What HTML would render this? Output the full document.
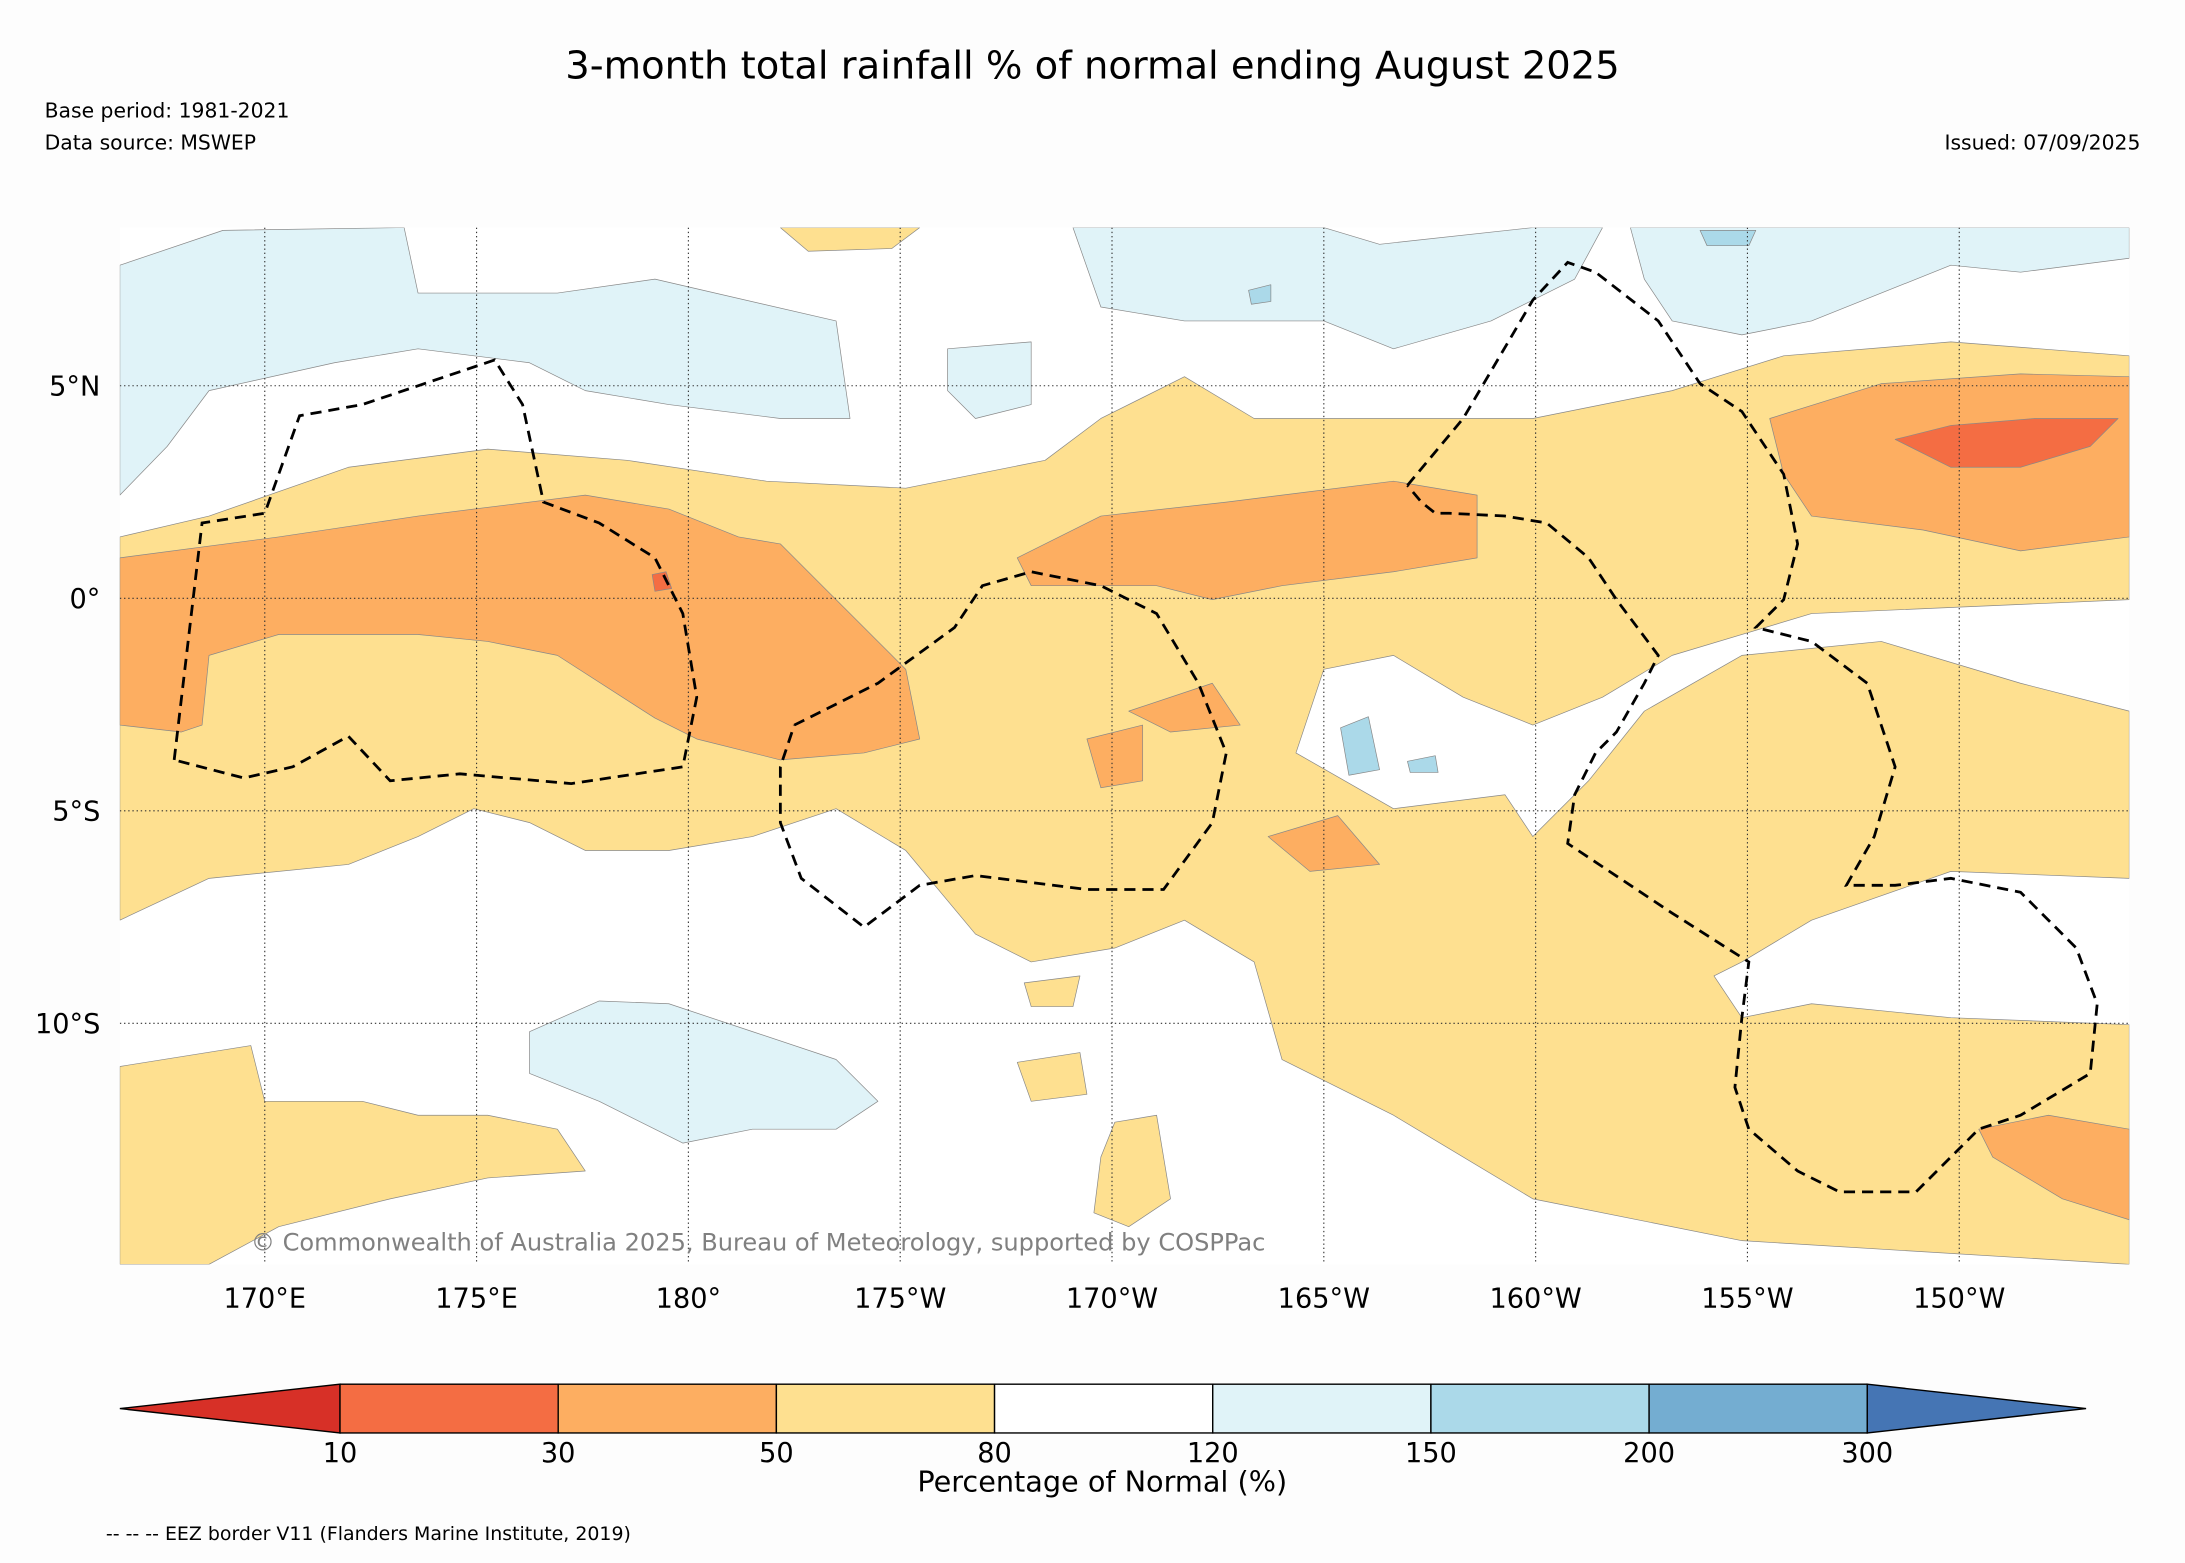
<!DOCTYPE html>
<html><head><meta charset="utf-8"><style>
html,body{margin:0;padding:0;background:#fdfdfd;}
svg{display:block;font-family:"DejaVu Sans","Liberation Sans",sans-serif;}
</style></head><body>
<svg id="chart" width="2185" height="1563" viewBox="0 0 1568 1121" xmlns="http://www.w3.org/2000/svg">
<rect x="0" y="0" width="1568" height="1121" fill="#fdfdfd"/>
<text x="784" y="56" font-size="27.6" text-anchor="middle" fill="#000">3-month total rainfall % of normal ending August 2025</text>
<text x="32" y="84" font-size="14.6">Base period: 1981-2021</text>
<text x="32" y="107" font-size="14.6">Data source: MSWEP</text>
<text x="1536" y="107" font-size="14.6" text-anchor="end">Issued: 07/09/2025</text>
<defs><clipPath id="mapclip"><rect x="86" y="163" width="1442" height="744"/></clipPath></defs>
<g id="map" clip-path="url(#mapclip)">
<rect x="86" y="163" width="1442" height="744" fill="#ffffff"/>
<g stroke="#888" stroke-width="0.5" stroke-linejoin="round">
<polygon fill="#e0f3f8" points="86,190 160,165 290,163 300,210 400,210 470,200 600,230 610,300 560,300 480,290 420,280 380,260 300,250 240,260 150,280 120,320 86,355"/>
<polygon fill="#e0f3f8" points="770,163 950,163 990,175 1100,163 1150,163 1130,200 1070,230 1000,250 950,230 850,230 790,220"/>
<polygon fill="#e0f3f8" points="680,250 740,245 740,290 700,300 680,280"/>
<polygon fill="#e0f3f8" points="1170,163 1528,163 1528,185 1450,195 1400,190 1300,230 1250,240 1200,230 1180,200"/>
<polygon fill="#e0f3f8" points="380,740 430,718 480,720 540,740 600,760 630,790 600,810 540,810 490,820 430,790 380,770"/>
<polygon fill="#fee090" points="86,385 150,370 250,335 350,322 450,330 550,345 650,350 750,330 790,300 850,270 900,300 1000,300 1100,300 1200,280 1280,255 1400,245 1528,255 1528,430 1300,440 1200,470 1150,500 1100,520 1050,500 1000,470 950,480 930,540 1000,580 1080,570 1100,600 1140,560 1180,510 1250,470 1350,460 1450,490 1528,510 1528,630 1400,625 1300,660 1250,690 1230,700 1250,730 1300,720 1400,730 1528,735 1528,907 1250,890 1100,860 1000,800 920,760 900,690 850,660 800,680 740,690 700,670 650,610 600,580 540,600 480,610 420,610 380,590 340,580 300,600 250,620 150,630 86,660"/>
<polygon fill="#fee090" points="86,765 180,750 190,790 260,790 300,800 350,800 400,810 420,840 350,845 280,860 200,880 150,907 86,907"/>
<polygon fill="#fee090" points="730,762 775,755 780,785 740,790"/>
<polygon fill="#fee090" points="560,163 660,163 640,178 580,180"/>
<polygon fill="#fee090" points="800,805 830,800 840,860 810,880 785,870 790,830"/>
<polygon fill="#fee090" points="735,705 775,700 770,722 740,722"/>
<polygon fill="#fdae61" points="86,400 200,385 300,370 420,355 480,365 530,385 560,390 590,420 620,450 650,480 660,530 620,540 560,545 500,530 470,515 400,470 350,460 300,455 200,455 150,470 145,520 130,525 86,520"/>
<polygon fill="#fdae61" points="730,400 790,370 880,360 920,355 1000,345 1060,355 1060,400 1000,410 920,420 870,430 830,420 780,420 740,420"/>
<polygon fill="#fdae61" points="1270,300 1350,275 1450,268 1528,270 1528,385 1450,395 1380,380 1300,370 1280,340"/>
<polygon fill="#fdae61" points="910,600 960,585 990,620 940,625"/>
<polygon fill="#fdae61" points="780,530 820,520 820,560 790,565"/>
<polygon fill="#fdae61" points="810,510 870,490 890,520 840,525"/>
<polygon fill="#fdae61" points="1420,810 1470,800 1528,810 1528,875 1480,860 1430,830"/>
<polygon fill="#f46d43" points="1360,315 1400,305 1460,300 1520,300 1500,320 1450,335 1400,335"/>
<polygon fill="#f46d43" points="468,412 478,410 482,422 470,424"/>
<polygon fill="#abd9e9" points="962,522 982,514 990,552 968,556"/>
<polygon fill="#abd9e9" points="1220,165 1260,165 1255,176 1225,176"/>
<polygon fill="#abd9e9" points="1010,546 1030,542 1032,554 1012,554"/>
<polygon fill="#abd9e9" points="896,208 912,204 912,216 898,218"/>
</g>
<g id="grid"></g>
<g fill="none" stroke="#000" stroke-width="2" stroke-dasharray="8,5">
<polyline points="125,545 145,375 190,368 215,298 260,290 355,258 375,290 390,360 430,375 470,400 490,440 500,500 490,550 410,562 330,555 280,560 250,528 210,550 175,558 125,545"/>
<polyline points="570,520 630,490 685,450 705,420 740,410 790,420 830,440 860,490 880,540 870,590 835,638 780,638 700,628 660,635 620,665 575,630 560,590 560,550 570,520"/>
<polyline points="1010,348 1050,300 1100,215 1125,188 1145,195 1190,230 1220,275 1250,295 1280,340 1290,390 1280,430 1260,450 1300,460 1340,490 1360,550 1345,600 1325,635 1360,635 1400,630 1450,640 1490,680 1505,720 1500,770 1450,800 1420,810 1375,855 1320,855 1290,840 1255,810 1245,780 1250,730 1255,690 1200,655 1125,605 1130,570 1145,540 1160,525 1180,490 1190,470 1160,430 1140,400 1110,375 1080,370 1040,368 1030,368 1020,360 1010,348"/>
</g>
<text x="180" y="897" font-size="17.3" fill="#808080">© Commonwealth of Australia 2025, Bureau of Meteorology, supported by COSPPac</text>
</g>
<g id="axes"></g>
<g id="cbar"></g>
<text x="791" y="1070" font-size="20.6" text-anchor="middle">Percentage of Normal (%)</text>
<text x="76" y="1105" font-size="13.6">-- -- -- EEZ border V11 (Flanders Marine Institute, 2019)</text>
</svg>
<script>
const lonLabels=['170°E','175°E','180°','175°W','170°W','165°W','160°W','155°W','150°W'];
const lonValues=[170,175,180,185,190,195,200,205,210];
const latLabels=['5°N','0°','5°S','10°S'];
const latValues=[5,0,-5,-10];
const cbarBounds=['10','30','50','80','120','150','200','300'];
const cbarColors=['#d73027','#f46d43','#fdae61','#fee090','#ffffff','#e0f3f8','#abd9e9','#74add1','#4575b4'];
const NS='http://www.w3.org/2000/svg';
const xLon=l=>190+(l-170)*30.4;
const yLat=v=>429-v*30.5;
function mk(tag,attrs,parent){const e=document.createElementNS(NS,tag);for(const k in attrs)e.setAttribute(k,attrs[k]);parent.appendChild(e);return e;}
const grid=document.getElementById('grid'),axes=document.getElementById('axes');
lonValues.forEach((l,i)=>{
  const ln=mk('line',{x1:xLon(l),x2:xLon(l),y1:163,y2:907,stroke:'#333','stroke-width':0.8,'stroke-dasharray':'1,2'},grid);
  
  
  const t=mk('text',{x:xLon(l),y:938,'font-size':19.5,'text-anchor':'middle'},axes);
  t.textContent=lonLabels[i];
  
  
});
latValues.forEach((v,i)=>{
  const ln=mk('line',{x1:86,x2:1528,y1:yLat(v),y2:yLat(v),stroke:'#333','stroke-width':0.8,'stroke-dasharray':'1,2'},grid);
  
  
  const t=mk('text',{x:72,y:yLat(v)+7,'font-size':19.5,'text-anchor':'end'},axes);
  t.textContent=latLabels[i];
  
  
});
const cb=document.getElementById('cbar');
const x0=244,x1=1340,yt=993,yb=1028,w=(x1-x0)/(cbarBounds.length-1);
const lt=mk('polygon',{points:`86,1010.5 ${x0},${yt} ${x0},${yb}`,fill:cbarColors[0],stroke:'#000','stroke-width':1},cb);


for(let i=0;i<cbarBounds.length-1;i++){
  const r=mk('rect',{x:x0+i*w,y:yt,width:w,height:yb-yt,fill:cbarColors[i+1],stroke:'#000','stroke-width':1},cb);
  
  
}
const rt=mk('polygon',{points:`${x1},${yt} 1497,1010.5 ${x1},${yb}`,fill:cbarColors[cbarColors.length-1],stroke:'#000','stroke-width':1},cb);


cbarBounds.forEach((b,i)=>{
  const t=mk('text',{x:x0+i*w,y:1049,'font-size':19.5,'text-anchor':'middle'},cb);
  t.textContent=b;
  
  
});
</script>
</body></html>
